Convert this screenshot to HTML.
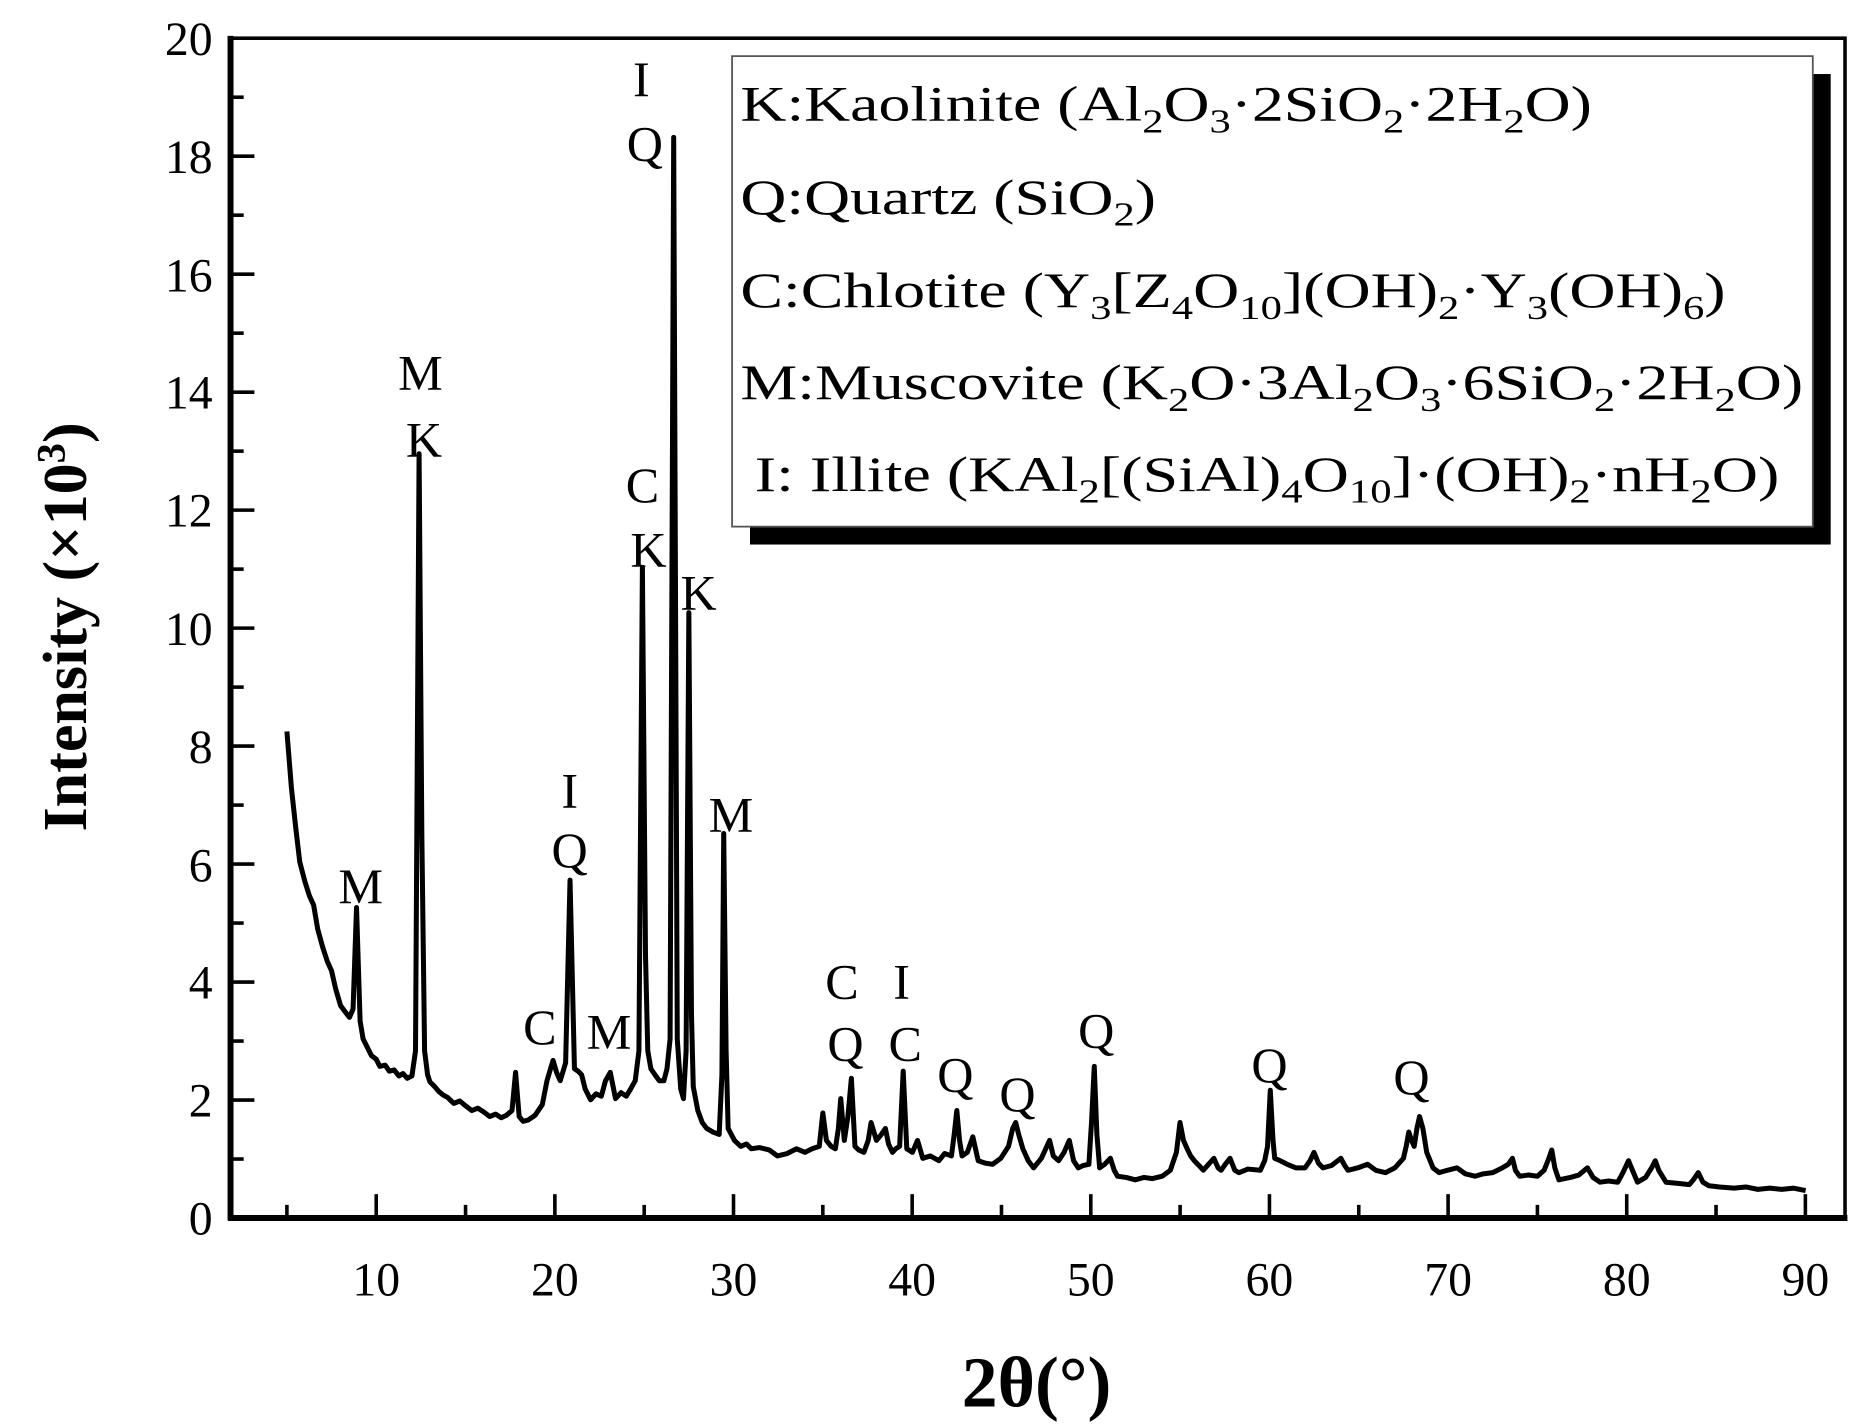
<!DOCTYPE html>
<html><head><meta charset="utf-8"><style>html,body{margin:0;padding:0;background:#fff}svg{display:block}</style></head>
<body>
<svg width="1863" height="1427" viewBox="0 0 1560 1195" xmlns="http://www.w3.org/2000/svg" font-family="'Liberation Serif', serif">
<rect x="0" y="0" width="1560" height="1195" fill="#fff"/>
<g stroke="#000" stroke-width="3">
<line x1="193" y1="1020" x2="213" y2="1020"/><line x1="193" y1="970.6" x2="204" y2="970.6"/>
<line x1="193" y1="921.2" x2="213" y2="921.2"/><line x1="193" y1="871.8" x2="204" y2="871.8"/>
<line x1="193" y1="822.4" x2="213" y2="822.4"/><line x1="193" y1="773" x2="204" y2="773"/>
<line x1="193" y1="723.6" x2="213" y2="723.6"/><line x1="193" y1="674.2" x2="204" y2="674.2"/>
<line x1="193" y1="624.8" x2="213" y2="624.8"/><line x1="193" y1="575.4" x2="204" y2="575.4"/>
<line x1="193" y1="526" x2="213" y2="526"/><line x1="193" y1="476.6" x2="204" y2="476.6"/>
<line x1="193" y1="427.2" x2="213" y2="427.2"/><line x1="193" y1="377.8" x2="204" y2="377.8"/>
<line x1="193" y1="328.4" x2="213" y2="328.4"/><line x1="193" y1="279" x2="204" y2="279"/>
<line x1="193" y1="229.6" x2="213" y2="229.6"/><line x1="193" y1="180.2" x2="204" y2="180.2"/>
<line x1="193" y1="130.8" x2="213" y2="130.8"/><line x1="193" y1="81.4" x2="204" y2="81.4"/>
<line x1="240.2" y1="1020" x2="240.2" y2="1009"/><line x1="315" y1="1020" x2="315" y2="1000"/>
<line x1="389.8" y1="1020" x2="389.8" y2="1009"/><line x1="464.6" y1="1020" x2="464.6" y2="1000"/>
<line x1="539.4" y1="1020" x2="539.4" y2="1009"/><line x1="614.2" y1="1020" x2="614.2" y2="1000"/>
<line x1="689" y1="1020" x2="689" y2="1009"/><line x1="763.8" y1="1020" x2="763.8" y2="1000"/>
<line x1="838.6" y1="1020" x2="838.6" y2="1009"/><line x1="913.4" y1="1020" x2="913.4" y2="1000"/>
<line x1="988.2" y1="1020" x2="988.2" y2="1009"/><line x1="1063" y1="1020" x2="1063" y2="1000"/>
<line x1="1137.8" y1="1020" x2="1137.8" y2="1009"/><line x1="1212.6" y1="1020" x2="1212.6" y2="1000"/>
<line x1="1287.4" y1="1020" x2="1287.4" y2="1009"/><line x1="1362.2" y1="1020" x2="1362.2" y2="1000"/>
<line x1="1437" y1="1020" x2="1437" y2="1009"/><line x1="1511.8" y1="1020" x2="1511.8" y2="1000"/>
</g>
<path fill="none" stroke="#000" stroke-width="4.2" stroke-linejoin="round" d="M240.2,612.5 L244,660 L247.7,694 L251,722 L255.2,738 L259,750 L262.6,758 L266,778 L270.1,793 L274,805 L277.6,813 L281,828 L285.1,842 L288,846 L292.6,852 L295.6,845 L298.5,760 L301.5,855 L304,870 L307.5,877 L311,884 L315,887 L318,893 L322.5,892 L326,897 L330,896 L334,901 L337.4,899 L341,903 L344.9,901 L347.9,880 L350.9,380 L353.2,700 L355.5,880 L358,900 L360,906 L364,910 L367.4,914 L371,917 L374.8,919 L380,924 L385,922 L389.8,926 L395,930 L400,928 L404.8,931 L410,935 L415,933 L419.7,936 L424,934 L428.7,930 L431.7,898 L434.7,935 L438,939 L442.2,938 L448,934 L454.1,925 L458,905 L463.1,888 L466,898 L469.1,905 L473.6,890 L477.3,737 L481,895 L484,897 L487,900 L490,912 L494.5,921 L499,916 L503.5,918 L507,905 L511,898 L515.4,920 L520,915 L524.4,918 L528,912 L531.9,905 L535,880 L537.9,475 L540.5,800 L542.4,880 L545,895 L548.4,900 L552,905 L555.9,905 L558.5,895 L561.1,870 L564.1,115 L567.1,870 L570,912 L572.3,920 L574.5,880 L576.8,513 L579,850 L580.5,910 L584.3,930 L588,940 L591.8,945 L597,948 L602.2,950 L604.5,900 L606,698 L608,880 L609.7,945 L615,955 L620.2,960 L625,958 L629.2,962 L636,961 L644.1,963 L651,968 L659.1,966 L667,962 L674,965 L680,962 L686,960 L689,932 L692,955 L696,960 L699.5,962 L702,945 L704,920 L707,955 L710,935 L712.9,903 L715.9,960 L719,963 L723.4,965 L727,955 L729.4,940 L733.9,955 L738,950 L741.4,945 L744,958 L747.3,965 L750,962 L753.3,960 L756.3,897 L759.3,962 L764,965 L768.3,955 L772.7,970 L779,968 L786.2,972 L791,966 L796.7,968 L799,950 L801.2,930 L803.5,955 L805.6,968 L810,965 L814.6,952 L819.1,972 L825,974 L831.1,975 L838,970 L844.5,960 L848,945 L850.5,940 L853,950 L856.5,962 L861,972 L865.5,978 L872,970 L878.9,955 L882,968 L886.4,972 L891,965 L895.4,955 L899,972 L902.9,978 L907,976 L911.8,975 L914,940 L916.3,893 L918.5,950 L920.8,978 L925,975 L929.8,970 L933,980 L935.8,985 L943,986 L950.7,988 L958,986 L965,987 L973.2,985 L980,980 L985.1,965 L988.1,940 L991,955 L994.1,962 L997,968 L1000.1,972 L1004,976 L1007.6,980 L1012,975 L1016.5,970 L1020,978 L1022.5,980 L1026,975 L1030,970 L1034,980 L1037.5,982 L1045,979 L1055.4,980 L1059,972 L1061.4,960 L1063.7,913 L1066,955 L1067.4,970 L1072,972 L1077.9,975 L1085,978 L1092.8,978 L1097,972 L1100.3,965 L1104,974 L1107.8,978 L1115,976 L1122.8,970 L1126,976 L1128.8,980 L1137,978 L1145.2,975 L1152,980 L1160.2,982 L1168,978 L1175.2,970 L1177.5,960 L1179.7,948 L1182,955 L1184.2,960 L1186.5,945 L1188.7,935 L1191.5,945 L1194.7,965 L1200,978 L1205.1,982 L1212,980 L1220.1,978 L1227,983 L1235.1,985 L1242,983 L1250,982 L1258,978 L1263,975 L1266.5,970 L1269,980 L1272.5,985 L1280,984 L1287.4,985 L1293,980 L1297,970 L1299.4,963 L1302,978 L1305.4,988 L1315,986 L1322,984 L1329.3,978 L1334,986 L1339.8,990 L1347,989 L1354.7,990 L1359,982 L1363.7,972 L1367,980 L1371.2,990 L1378,986 L1383,978 L1386.1,972 L1389,980 L1395.1,990 L1405,991 L1414.6,992 L1418,988 L1422.1,982 L1426,990 L1431.1,993 L1440,994 L1452,995 L1462,994 L1472,996 L1482,995 L1492,996 L1502,995 L1512,997"/>
<rect x="193" y="32" width="1352" height="988" fill="none" stroke="#000" stroke-width="3"/>
<line x1="191" y1="1020" x2="1547" y2="1020" stroke="#000" stroke-width="5"/>
<line x1="193" y1="30" x2="193" y2="1022" stroke="#000" stroke-width="5"/>
<g font-size="40" text-anchor="end">
<text x="178" y="1034">0</text><text x="178" y="935">2</text><text x="178" y="836">4</text>
<text x="178" y="738">6</text><text x="178" y="639">8</text><text x="178" y="540">10</text>
<text x="178" y="441">12</text><text x="178" y="342">14</text><text x="178" y="244">16</text>
<text x="178" y="145">18</text><text x="178" y="46">20</text>
</g>
<g font-size="40" text-anchor="middle">
<text x="315" y="1085">10</text><text x="464.6" y="1085">20</text><text x="614.2" y="1085">30</text>
<text x="763.8" y="1085">40</text><text x="913.4" y="1085">50</text><text x="1063" y="1085">60</text>
<text x="1212.6" y="1085">70</text><text x="1362.2" y="1085">80</text><text x="1511.8" y="1085">90</text>
</g>
<text x="868" y="1178" font-size="60" font-weight="bold" text-anchor="middle">2θ(°)</text>
<text transform="translate(72,525) rotate(-90)" font-size="52" font-weight="bold" text-anchor="middle">Intensity (×10<tspan dy="-18" font-size="34">3</tspan><tspan dy="18">)</tspan></text>
<rect x="628" y="62" width="905" height="394" fill="#000"/>
<rect x="613" y="47" width="905" height="394" fill="#fff" stroke="#555" stroke-width="1.5"/>
<g font-size="42">
<text x="620" y="101" textLength="713" lengthAdjust="spacingAndGlyphs">K:Kaolinite (Al<tspan dy="10" font-size="28">2</tspan><tspan dy="-10">O</tspan><tspan dy="10" font-size="28">3</tspan><tspan dy="-10">·2SiO</tspan><tspan dy="10" font-size="28">2</tspan><tspan dy="-10">·2H</tspan><tspan dy="10" font-size="28">2</tspan><tspan dy="-10">O)</tspan></text>
<text x="620" y="179" textLength="348" lengthAdjust="spacingAndGlyphs">Q:Quartz (SiO<tspan dy="10" font-size="28">2</tspan><tspan dy="-10">)</tspan></text>
<text x="620" y="257" textLength="825" lengthAdjust="spacingAndGlyphs">C:Chlotite (Y<tspan dy="10" font-size="28">3</tspan><tspan dy="-10">[Z</tspan><tspan dy="10" font-size="28">4</tspan><tspan dy="-10">O</tspan><tspan dy="10" font-size="28">10</tspan><tspan dy="-10">](OH)</tspan><tspan dy="10" font-size="28">2</tspan><tspan dy="-10">·Y</tspan><tspan dy="10" font-size="28">3</tspan><tspan dy="-10">(OH)</tspan><tspan dy="10" font-size="28">6</tspan><tspan dy="-10">)</tspan></text>
<text x="620" y="334" textLength="890" lengthAdjust="spacingAndGlyphs">M:Muscovite (K<tspan dy="10" font-size="28">2</tspan><tspan dy="-10">O·3Al</tspan><tspan dy="10" font-size="28">2</tspan><tspan dy="-10">O</tspan><tspan dy="10" font-size="28">3</tspan><tspan dy="-10">·6SiO</tspan><tspan dy="10" font-size="28">2</tspan><tspan dy="-10">·2H</tspan><tspan dy="10" font-size="28">2</tspan><tspan dy="-10">O)</tspan></text>
<text x="632" y="411" textLength="858" lengthAdjust="spacingAndGlyphs">I: Illite (KAl<tspan dy="10" font-size="28">2</tspan><tspan dy="-10">[(SiAl)</tspan><tspan dy="10" font-size="28">4</tspan><tspan dy="-10">O</tspan><tspan dy="10" font-size="28">10</tspan><tspan dy="-10">]·(OH)</tspan><tspan dy="10" font-size="28">2</tspan><tspan dy="-10">·nH</tspan><tspan dy="10" font-size="28">2</tspan><tspan dy="-10">O)</tspan></text>
</g>
<g font-size="42" text-anchor="middle" dominant-baseline="central">
<text x="302" y="742">M</text>
<text x="352" y="312">M</text><text x="355" y="368">K</text>
<text x="452" y="860">C</text>
<text x="477" y="662">I</text><text x="477" y="712">Q</text>
<text x="510" y="864">M</text>
<text x="538" y="406">C</text><text x="543" y="460">K</text>
<text x="537" y="66">I</text><text x="540" y="120">Q</text>
<text x="585" y="496">K</text>
<text x="612" y="682">M</text>
<text x="705" y="822">C</text><text x="708" y="874">Q</text>
<text x="755" y="822">I</text><text x="758" y="874">C</text>
<text x="800" y="900">Q</text>
<text x="852" y="916">Q</text>
<text x="918" y="863">Q</text>
<text x="1063" y="892">Q</text>
<text x="1182" y="902">Q</text>
</g>
</svg>
</body></html>
